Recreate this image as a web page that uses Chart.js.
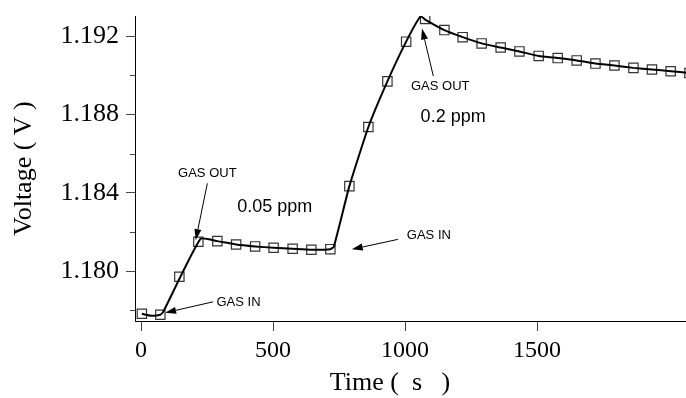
<!DOCTYPE html>
<html>
<head>
<meta charset="utf-8">
<script src="https://cdn.jsdelivr.net/npm/chart.js@4.4.1/dist/chart.umd.min.js"></script>
<style>
  body { margin: 0; background: #fff; }
  #wrap { width: 686px; height: 398px; }
</style>
</head>
<body>
<div id="wrap"><canvas id="voltChart" width="686" height="398"></canvas></div>
<script>
// measured points (squares)
var times = [3, 73, 145, 217, 289, 360, 432, 502, 574, 645, 717, 789, 861, 933, 1004,
             1076, 1149, 1218, 1290, 1362, 1433, 1506, 1578, 1650, 1721, 1793, 1865, 1935, 2006, 2077];
var volts = [1.17782, 1.17777, 1.17971, 1.18150, 1.18153, 1.18136, 1.18126, 1.18119, 1.18114, 1.18109,
             1.18112, 1.18434, 1.18736, 1.18969, 1.19172, 1.19288, 1.19231, 1.19195, 1.19163, 1.19142,
             1.19122, 1.19099, 1.19088, 1.19076, 1.19060, 1.19050, 1.19038, 1.19030, 1.19021, 1.19012];

// fitted curve
var fitTimes = [3, 40, 73, 84, 225, 289, 360, 432, 502, 574, 645, 717, 730, 789, 861, 933, 1004,
                1059, 1076, 1149, 1218, 1290, 1362, 1433, 1506, 1578, 1650, 1721, 1793, 1865, 1935, 2006, 2077];
var fitVolts = [1.17782, 1.17772, 1.17777, 1.17792, 1.18164, 1.18153, 1.18136, 1.18126, 1.18119, 1.18114,
                1.18109, 1.18112, 1.18124, 1.18434, 1.18736, 1.18969, 1.19172, 1.19302, 1.19285, 1.19231,
                1.19195, 1.19163, 1.19142, 1.19122, 1.19099, 1.19088, 1.19076, 1.19060, 1.19050, 1.19038,
                1.19030, 1.19021, 1.19012];

var xTicks = [0, 500, 1000, 1500];
var yTicks = [1.180, 1.184, 1.188, 1.192];
var yMinorTicks = [1.178, 1.182, 1.186, 1.190];

// annotation labels, placed in data units [time, volt]
var noteTexts = ['GAS OUT', '0.05 ppm', 'GAS IN', 'GAS IN', 'GAS OUT', '0.2 ppm'];
var noteAt = [[251, 1.18499], [506, 1.18329], [369, 1.17842], [1090, 1.18184], [1133, 1.18945], [1182, 1.18785]];
var noteBig = [false, true, false, false, false, true];
// arrows: [fromTime, fromVolt, toTime, toVolt]
var arrows = [
  [251, 1.18448, 207, 1.18158],
  [273, 1.17843, 91, 1.17787],
  [973, 1.18162, 798, 1.18111],
  [1107, 1.18996, 1064, 1.19239]
];

function pairs(xs, ys) {
  return xs.map(function(t, i) { return { x: t, y: ys[i] }; });
}

var extras = {
  id: 'extras',
  afterDraw: function(chart) {
    var ctx = chart.ctx;
    var x = chart.scales.x, y = chart.scales.y;
    ctx.save();

    // minor ticks on y
    ctx.strokeStyle = '#444';
    ctx.lineWidth = 1;
    yMinorTicks.forEach(function(v) {
      var py = Math.round(y.getPixelForValue(v)) + 0.5;
      ctx.beginPath();
      ctx.moveTo(x.left - 5, py);
      ctx.lineTo(x.left, py);
      ctx.stroke();
    });

    // x title
    ctx.fillStyle = '#000';
    ctx.font = '26px "Liberation Serif"';
    ctx.textAlign = 'center';
    ctx.textBaseline = 'middle';
    ctx.fillText('Time (  s   )', 390, 383);

    // notes
    noteTexts.forEach(function(txt, i) {
      ctx.font = (noteBig[i] ? '18px' : '13px') + ' "Liberation Sans"';
      ctx.fillText(txt, x.getPixelForValue(noteAt[i][0]), y.getPixelForValue(noteAt[i][1]));
    });

    // arrows
    ctx.strokeStyle = '#000';
    ctx.lineWidth = 1;
    arrows.forEach(function(a) {
      var x0 = x.getPixelForValue(a[0]), y0 = y.getPixelForValue(a[1]);
      var x1 = x.getPixelForValue(a[2]), y1 = y.getPixelForValue(a[3]);
      var ang = Math.atan2(y1 - y0, x1 - x0);
      var len = 11, half = 3.5;
      var bx = x1 - len * Math.cos(ang), by = y1 - len * Math.sin(ang);
      ctx.beginPath();
      ctx.moveTo(x0, y0);
      ctx.lineTo(bx, by);
      ctx.stroke();
      ctx.beginPath();
      ctx.moveTo(x1, y1);
      ctx.lineTo(bx + half * Math.sin(ang), by - half * Math.cos(ang));
      ctx.lineTo(bx - half * Math.sin(ang), by + half * Math.cos(ang));
      ctx.closePath();
      ctx.fill();
    });
    ctx.restore();
  }
};

var context = document.getElementById('voltChart').getContext('2d');
var voltChart = new Chart(context, {
  type: 'scatter',
  data: {
    datasets: [{
      data: pairs(fitTimes, fitVolts),
      showLine: true,
      borderColor: '#000',
      borderWidth: 2,
      pointRadius: 0,
      tension: 0.15
    }, {
      data: pairs(times, volts),
      showLine: false,
      pointStyle: 'rect',
      pointRadius: 6.6,
      borderColor: '#333',
      pointBorderColor: '#333',
      pointBorderWidth: 1.2,
      pointBackgroundColor: 'rgba(0,0,0,0)'
    }]
  },
  options: {
    responsive: false,
    animation: false,
    layout: { autoPadding: false, padding: { top: 16, right: 0, bottom: 0, left: 0 } },
    plugins: { legend: { display: false }, tooltip: { enabled: false } },
    scales: {
      x: {
        type: 'linear',
        min: -23,
        max: 2064,
        afterBuildTicks: function(scale) {
          scale.ticks = xTicks.map(function(v) { return { value: v }; });
        },
        afterFit: function(scale) { scale.height = 77; },
        grid: { drawOnChartArea: false, tickLength: 10, tickColor: '#444' },
        border: { color: '#000', width: 1 },
        ticks: {
          color: '#000',
          padding: 5,
          maxRotation: 0,
          font: { family: 'Liberation Serif', size: 24 },
          callback: function(v) { return String(v); }
        }
      },
      y: {
        min: 1.17745,
        max: 1.19303,
        afterBuildTicks: function(scale) {
          scale.ticks = yTicks.map(function(v) { return { value: v }; });
        },
        afterFit: function(scale) {
          scale.width = 135;
          scale.paddingTop = 0;
          scale.paddingBottom = 0;
        },
        grid: { drawOnChartArea: false, tickLength: 9, tickColor: '#444' },
        border: { color: '#000', width: 1 },
        ticks: {
          color: '#000',
          padding: 7,
          font: { family: 'Liberation Serif', size: 26 },
          callback: function(v) { return v.toFixed(3); }
        },
        title: {
          display: true,
          text: 'Voltage ( V )',
          color: '#000',
          padding: { top: 9, bottom: 0 },
          font: { family: 'Liberation Serif', size: 26 }
        }
      }
    }
  },
  plugins: [extras]
});
</script>
</body>
</html>
